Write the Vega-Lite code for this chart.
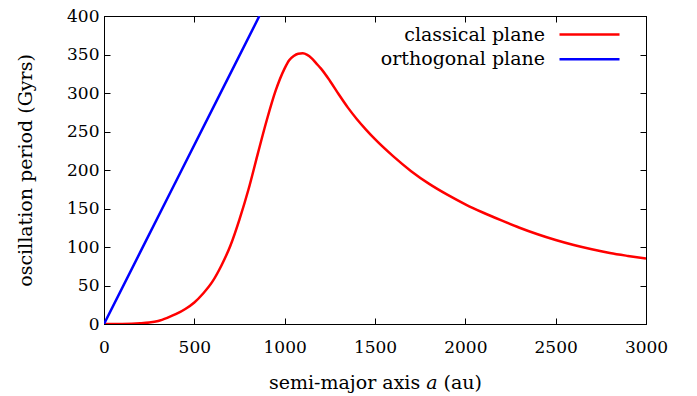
{
  "$schema": "https://vega.github.io/schema/vega-lite/v6.json",
  "width": 542,
  "height": 308,
  "autosize": {"type": "none"},
  "padding": {"left": 104, "top": 16, "right": 51, "bottom": 72},
  "background": "white",
  "config": {
    "view": {"stroke": "black", "strokeWidth": 1},
    "font": "DejaVu Serif",
    "axis": {
      "grid": false,
      "domainColor": "black",
      "tickColor": "black",
      "tickSize": -6,
      "labelFlush": false,
      "labelOverlap": false,
      "labelFont": "DejaVu Serif",
      "labelFontSize": 17,
      "labelColor": "black",
      "titleFont": "DejaVu Serif",
      "titleFontSize": 19,
      "titleFontWeight": "normal",
      "titleColor": "black"
    },
    "legend": {"labelFont": "DejaVu Serif"}
  },
  "data": {
    "values": [
      {"a": 0, "p": 0, "s": "classical plane"},
      {"a": 100, "p": 0.15, "s": "classical plane"},
      {"a": 200, "p": 1, "s": "classical plane"},
      {"a": 250, "p": 2, "s": "classical plane"},
      {"a": 300, "p": 4, "s": "classical plane"},
      {"a": 350, "p": 8, "s": "classical plane"},
      {"a": 400, "p": 13, "s": "classical plane"},
      {"a": 450, "p": 19.5, "s": "classical plane"},
      {"a": 500, "p": 28, "s": "classical plane"},
      {"a": 550, "p": 40, "s": "classical plane"},
      {"a": 600, "p": 55, "s": "classical plane"},
      {"a": 650, "p": 76, "s": "classical plane"},
      {"a": 700, "p": 102, "s": "classical plane"},
      {"a": 750, "p": 136, "s": "classical plane"},
      {"a": 800, "p": 175, "s": "classical plane"},
      {"a": 850, "p": 220, "s": "classical plane"},
      {"a": 900, "p": 264, "s": "classical plane"},
      {"a": 950, "p": 303, "s": "classical plane"},
      {"a": 1000, "p": 332, "s": "classical plane"},
      {"a": 1025, "p": 342.5, "s": "classical plane"},
      {"a": 1050, "p": 348, "s": "classical plane"},
      {"a": 1075, "p": 351, "s": "classical plane"},
      {"a": 1100, "p": 351.6, "s": "classical plane"},
      {"a": 1125, "p": 349.5, "s": "classical plane"},
      {"a": 1150, "p": 345, "s": "classical plane"},
      {"a": 1175, "p": 338.5, "s": "classical plane"},
      {"a": 1200, "p": 332, "s": "classical plane"},
      {"a": 1250, "p": 316, "s": "classical plane"},
      {"a": 1300, "p": 298, "s": "classical plane"},
      {"a": 1350, "p": 281, "s": "classical plane"},
      {"a": 1400, "p": 266, "s": "classical plane"},
      {"a": 1450, "p": 252.5, "s": "classical plane"},
      {"a": 1500, "p": 240, "s": "classical plane"},
      {"a": 1600, "p": 218, "s": "classical plane"},
      {"a": 1700, "p": 198.5, "s": "classical plane"},
      {"a": 1800, "p": 182, "s": "classical plane"},
      {"a": 1900, "p": 168, "s": "classical plane"},
      {"a": 2000, "p": 155.5, "s": "classical plane"},
      {"a": 2100, "p": 144.5, "s": "classical plane"},
      {"a": 2200, "p": 134.5, "s": "classical plane"},
      {"a": 2300, "p": 125, "s": "classical plane"},
      {"a": 2400, "p": 116.5, "s": "classical plane"},
      {"a": 2500, "p": 109, "s": "classical plane"},
      {"a": 2600, "p": 102.5, "s": "classical plane"},
      {"a": 2700, "p": 97, "s": "classical plane"},
      {"a": 2800, "p": 92.2, "s": "classical plane"},
      {"a": 2900, "p": 88.4, "s": "classical plane"},
      {"a": 3000, "p": 85, "s": "classical plane"},
      {"a": 0, "p": 0, "s": "orthogonal plane"},
      {"a": 430, "p": 200, "s": "orthogonal plane"},
      {"a": 860, "p": 400, "s": "orthogonal plane"}
    ]
  },
  "layer": [
    {
      "mark": {"type": "line", "strokeWidth": 2.5, "interpolate": "monotone", "clip": true},
      "encoding": {
        "x": {
          "field": "a", "type": "quantitative",
          "scale": {"domain": [0, 3000], "nice": false},
          "axis": {"orient": "bottom", "values": [0, 500, 1000, 1500, 2000, 2500, 3000], "format": "d", "labelPadding": 29, "labelBaseline": "middle",
                   "title": "semi-major axis 𝑎 (au)", "titleX": 271, "titleY": 58, "titleBaseline": "middle", "titleAlign": "center"}
        },
        "y": {
          "field": "p", "type": "quantitative",
          "scale": {"domain": [0, 400], "nice": false},
          "axis": {"orient": "left", "values": [0, 50, 100, 150, 200, 250, 300, 350, 400], "format": "d", "labelPadding": 11, "labelBaseline": "middle",
                   "title": "oscillation period (Gyrs)", "titleAngle": -90, "titleX": -79, "titleY": 154, "titleBaseline": "middle", "titleAlign": "center"}
        },
        "color": {
          "field": "s", "type": "nominal",
          "scale": {"domain": ["classical plane", "orthogonal plane"], "range": ["#ff0000", "#0000ff"]},
          "legend": {
            "title": null, "orient": "none", "legendX": 454, "legendY": 7,
            "symbolType": "M-3,0H3", "symbolSize": 400, "symbolStrokeWidth": 2.5, "symbolOffset": 20,
            "labelAlign": "right", "labelOffset": -56, "labelFontSize": 19,
            "labelColor": "black", "rowPadding": 2.7, "padding": 0, "labelLimit": 400
          }
        }
      }
    },
    {
      "mark": {"type": "line", "opacity": 0},
      "encoding": {
        "x": {"field": "a", "type": "quantitative", "axis": {"orient": "top", "labels": false, "title": null, "values": [0, 500, 1000, 1500, 2000, 2500, 3000]}},
        "y": {"field": "p", "type": "quantitative", "axis": {"orient": "right", "labels": false, "title": null, "values": [0, 50, 100, 150, 200, 250, 300, 350, 400]}},
        "detail": {"field": "s"}
      }
    }
  ],
  "resolve": {"axis": {"x": "independent", "y": "independent"}}
}
